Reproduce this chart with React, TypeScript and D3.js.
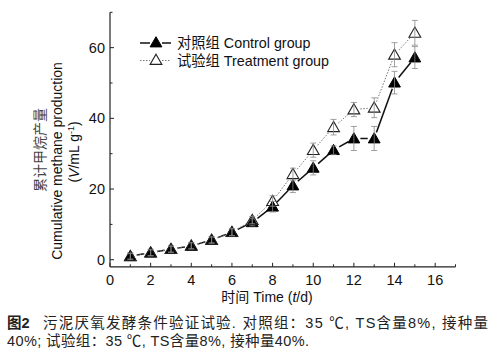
import { useEffect, useRef } from "react";
import * as d3 from "d3";

const days = [1, 2, 3, 4, 5, 6, 7, 8, 9, 10, 11, 12, 13, 14, 15];
const controlValues = [1.0, 2.0, 3.0, 3.9, 5.6, 7.8, 10.6, 15.0, 21.0, 26.0, 31.0, 34.3, 34.3, 50.1, 57.2];
const controlErrors = [1.0, 1.0, 1.0, 1.0, 1.0, 1.0, 1.0, 1.5, 2.0, 2.0, 1.2, 3.4, 3.4, 3.2, 3.1];
const treatmentValues = [1.0, 2.0, 3.0, 4.0, 5.6, 7.8, 11.2, 16.6, 24.2, 31.0, 37.5, 42.5, 43.0, 58.0, 64.2];
const treatmentErrors = [0.8, 0.8, 0.8, 0.8, 0.8, 1.0, 1.0, 1.5, 1.7, 2.0, 2.2, 2.0, 2.8, 3.4, 3.5];

const xTicks = [0, 2, 4, 6, 8, 10, 12, 14, 16];
const xMinor = [1, 3, 5, 7, 9, 11, 13, 15, 17];
const yTicks = [0, 20, 40, 60];
const yMinor = [10, 30, 50, 70];

const legendLabels = ["对照组 Control group", "试验组 Treatment group"];

const FONT = "'Liberation Sans', Arial, 'Noto Sans CJK SC', sans-serif";

const App = () => {
  const svgRef = useRef<SVGSVGElement>(null);
  const width = 497;
  const height = 352;

  useEffect(() => {
    const svg = d3.select(svgRef.current);
    svg.selectAll("*").remove();

    const x = d3.scaleLinear().domain([0, 17]).range([110, 455.5]);
    const y = d3.scaleLinear().domain([-2, 70]).range([266.8, 12.3]);

    const g = svg.append("g");

    // axes
    g.append("line").attr("x1", x(0)).attr("x2", x(17)).attr("y1", y(-2)).attr("y2", y(-2))
      .attr("stroke", "#222").attr("stroke-width", 1.2);
    g.append("line").attr("x1", x(0)).attr("x2", x(0)).attr("y1", y(-2)).attr("y2", y(70))
      .attr("stroke", "#222").attr("stroke-width", 1.2);

    g.selectAll(".xt").data(xTicks).enter().append("line")
      .attr("x1", d => x(d)).attr("x2", d => x(d)).attr("y1", y(-2)).attr("y2", y(-2) - 4)
      .attr("stroke", "#222");
    g.selectAll(".xm").data(xMinor).enter().append("line")
      .attr("x1", d => x(d)).attr("x2", d => x(d)).attr("y1", y(-2)).attr("y2", y(-2) - 2.5)
      .attr("stroke", "#222");
    g.selectAll(".yt").data(yTicks).enter().append("line")
      .attr("x1", x(0)).attr("x2", x(0) + 4).attr("y1", d => y(d)).attr("y2", d => y(d))
      .attr("stroke", "#222");
    g.selectAll(".ym").data(yMinor).enter().append("line")
      .attr("x1", x(0)).attr("x2", x(0) + 2.5).attr("y1", d => y(d)).attr("y2", d => y(d))
      .attr("stroke", "#222");

    g.selectAll(".xl").data(xTicks).enter().append("text")
      .attr("x", d => x(d)).attr("y", 284.5).attr("text-anchor", "middle")
      .attr("font-size", 14.5).attr("font-family", FONT).attr("fill", "#111").text(d => d);
    g.selectAll(".yl").data(yTicks).enter().append("text")
      .attr("x", x(0) - 5).attr("y", d => y(d) + 5).attr("text-anchor", "end")
      .attr("font-size", 14.5).attr("font-family", FONT).attr("fill", "#111").text(d => d);

    // connecting lines with gaps around symbols
    const gap = 6.5;
    const drawLine = (vals: number[], color: string, w: number, dash: string | null) => {
      for (let i = 0; i < vals.length - 1; i++) {
        const x1 = x(days[i]), y1 = y(vals[i]);
        const x2 = x(days[i + 1]), y2 = y(vals[i + 1]);
        const len = Math.hypot(x2 - x1, y2 - y1);
        if (len <= gap * 2) continue;
        const ux = (x2 - x1) / len, uy = (y2 - y1) / len;
        const l = g.append("line")
          .attr("x1", x1 + ux * gap).attr("y1", y1 + uy * gap)
          .attr("x2", x2 - ux * gap).attr("y2", y2 - uy * gap)
          .attr("stroke", color).attr("stroke-width", w);
        if (dash) l.attr("stroke-dasharray", dash);
      }
    };
    drawLine(controlValues, "#111", 1.5, null);
    drawLine(treatmentValues, "#777", 1, "1.5,1.5");

    const tri = d3.symbol().type(d3.symbolTriangle).size(60);

    // error bars
    const drawErr = (vals: number[], errs: number[]) => {
      days.forEach((d, i) => {
        const cx = x(d);
        const top = y(vals[i] + errs[i]);
        const bot = y(vals[i] - errs[i]);
        g.append("line").attr("x1", cx).attr("x2", cx).attr("y1", top).attr("y2", bot)
          .attr("stroke", "#888").attr("stroke-width", 0.8);
        [top, bot].forEach(yy => {
          g.append("line").attr("x1", cx - 3).attr("x2", cx + 3).attr("y1", yy).attr("y2", yy)
            .attr("stroke", "#888").attr("stroke-width", 0.8);
        });
      });
    };

    // control markers
    g.selectAll(".cm").data(days).enter().append("path")
      .attr("d", tri)
      .attr("transform", (d, i) => `translate(${x(d)},${y(controlValues[i]) + 1})`)
      .attr("fill", "#000").attr("stroke", "#000").attr("stroke-width", 1);
    drawErr(controlValues, controlErrors);

    // treatment markers
    g.selectAll(".tm").data(days).enter().append("path")
      .attr("d", tri)
      .attr("transform", (d, i) => `translate(${x(d)},${y(treatmentValues[i]) + 1})`)
      .attr("fill", "none").attr("stroke", "#222").attr("stroke-width", 1.1);
    drawErr(treatmentValues, treatmentErrors);

    // legend
    const lg = svg.append("g");
    const lys = [43, 60.5];
    lg.append("line").attr("x1", 140).attr("x2", 150).attr("y1", lys[0]).attr("y2", lys[0])
      .attr("stroke", "#111").attr("stroke-width", 1.5);
    lg.append("line").attr("x1", 162).attr("x2", 171).attr("y1", lys[0]).attr("y2", lys[0])
      .attr("stroke", "#111").attr("stroke-width", 1.5);
    lg.append("path").attr("d", tri).attr("transform", `translate(156,${lys[0] + 0.5})`)
      .attr("fill", "#000").attr("stroke", "#000");
    lg.append("line").attr("x1", 140).attr("x2", 150).attr("y1", lys[1]).attr("y2", lys[1])
      .attr("stroke", "#777").attr("stroke-width", 1).attr("stroke-dasharray", "1.5,1.5");
    lg.append("line").attr("x1", 162).attr("x2", 171).attr("y1", lys[1]).attr("y2", lys[1])
      .attr("stroke", "#777").attr("stroke-width", 1).attr("stroke-dasharray", "1.5,1.5");
    lg.append("path").attr("d", tri).attr("transform", `translate(156,${lys[1] + 0.5})`)
      .attr("fill", "none").attr("stroke", "#222").attr("stroke-width", 1.1);
    legendLabels.forEach((t, i) => {
      lg.append("text").attr("x", 177).attr("y", lys[i] + 5)
        .attr("font-size", 14.3).attr("font-family", FONT).attr("fill", "#111").text(t);
    });

    // axis titles
    const yt = svg.append("g");
    yt.append("text").attr("transform", "translate(45,150) rotate(-90)")
      .attr("text-anchor", "middle").attr("font-size", 14).attr("font-family", FONT)
      .attr("fill", "#444").text("累计甲烷产量");
    yt.append("text").attr("transform", "translate(62,161) rotate(-90)")
      .attr("text-anchor", "middle").attr("font-size", 14).attr("font-family", FONT)
      .attr("fill", "#111").text("Cumulative methane production");
    const pt = yt.append("text").attr("transform", "translate(79,152) rotate(-90)")
      .attr("text-anchor", "middle").attr("font-size", 14).attr("font-family", FONT)
      .attr("fill", "#111");
    pt.append("tspan").text("(");
    pt.append("tspan").attr("font-style", "italic").text("V");
    pt.append("tspan").text("/mL g");
    pt.append("tspan").attr("font-size", 9).attr("dy", -5).text("-1");
    pt.append("tspan").attr("dy", 5).text(")");

    const xt = svg.append("text").attr("x", 267).attr("y", 302).attr("text-anchor", "middle")
      .attr("font-size", 14).attr("font-family", FONT).attr("fill", "#111");
    xt.append("tspan").text("时间 Time (");
    xt.append("tspan").attr("font-style", "italic").text("t");
    xt.append("tspan").text("/d)");

    // caption
    svg.append("text").attr("x", 7).attr("y", 328)
      .attr("font-size", 14.5).attr("font-family", FONT).attr("fill", "#222")
      .attr("font-weight", "bold").text("图2");
    svg.append("text").attr("x", 43).attr("y", 328)
      .attr("font-size", 14.5).attr("font-family", FONT).attr("fill", "#222")
      .attr("textLength", 445).attr("lengthAdjust", "spacing")
      .text("污泥厌氧发酵条件验证试验. 对照组：35 ℃, TS含量8%, 接种量");
    svg.append("text").attr("x", 7).attr("y", 345.5)
      .attr("font-size", 14.5).attr("font-family", FONT).attr("fill", "#222")
      .attr("textLength", 302).attr("lengthAdjust", "spacing")
      .text("40%; 试验组：35 ℃, TS含量8%, 接种量40%.");
  }, []);

  return (
    <div style={{ position: "absolute", left: 0, top: 0 }}>
      <svg ref={svgRef} width={width} height={height} style={{ display: "block", background: "#fff" }} />
    </div>
  );
};

export default App;
